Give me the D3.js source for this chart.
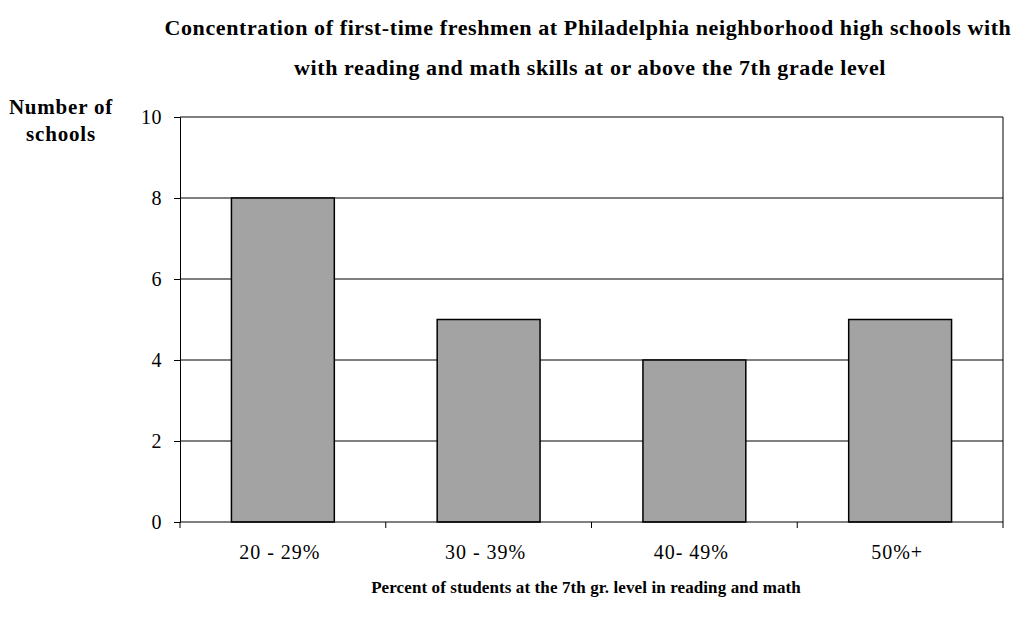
<!DOCTYPE html>
<html>
<head>
<meta charset="utf-8">
<script src="https://cdn.jsdelivr.net/npm/d3@7"></script>
<style>
  body { margin: 0; background: #fff; }
  svg { display: block; font-family: "Liberation Serif", "Times New Roman", serif; }
</style>
</head>
<body>
<div id="chart"></div>
<script>
const categories = ['20 - 29%', '30 - 39%', '40- 49%', '50%+'];
const schools = [8, 5, 4, 5];
const yTicks = [0, 2, 4, 6, 8, 10];

const W = 1029, H = 626;
const M = { top: 117, right: 26, bottom: 104, left: 180 };
const FONT = '"Liberation Serif", "Times New Roman", serif';

const svg = d3.select('#chart').append('svg')
  .attr('width', W).attr('height', H);

const x = d3.scaleBand()
  .domain(categories)
  .range([M.left, W - M.right])
  .paddingInner(0.5)
  .paddingOuter(0.25);

const y = d3.scaleLinear()
  .domain([0, 10])
  .range([H - M.bottom, M.top]);

// gridlines
svg.append('g')
  .selectAll('line')
  .data(yTicks.filter(d => d > 0))
  .join('line')
  .attr('x1', M.left).attr('x2', W - M.right)
  .attr('y1', d => y(d)).attr('y2', d => y(d))
  .attr('stroke', '#000').attr('stroke-width', 1);

// right border
svg.append('line')
  .attr('x1', W - M.right).attr('x2', W - M.right)
  .attr('y1', M.top).attr('y2', H - M.bottom)
  .attr('stroke', '#000');

// bars
svg.append('g')
  .selectAll('rect')
  .data(schools)
  .join('rect')
  .attr('x', (d, i) => x(categories[i]))
  .attr('y', d => y(d))
  .attr('width', x.bandwidth())
  .attr('height', d => y(0) - y(d))
  .attr('fill', '#a3a3a3')
  .attr('stroke', '#000')
  .attr('stroke-width', 1.5);

// y axis
const yAxis = svg.append('g')
  .attr('transform', `translate(${M.left},0)`)
  .call(d3.axisLeft(y).tickValues(yTicks).tickSize(6).tickPadding(12));
yAxis.select('.domain').attr('stroke', '#000');
yAxis.selectAll('text')
  .style('font-family', FONT).style('font-size', '20px').style('letter-spacing', '0.5px').attr('fill', '#000');

// x axis: ticks at category boundaries
const bounds = d3.range(categories.length + 1).map(i => M.left + i * (W - M.right - M.left) / categories.length);
svg.append('line')
  .attr('x1', M.left).attr('x2', W - M.right)
  .attr('y1', y(0)).attr('y2', y(0))
  .attr('stroke', '#000');
svg.append('g')
  .selectAll('line')
  .data(bounds)
  .join('line')
  .attr('x1', d => d).attr('x2', d => d)
  .attr('y1', y(0)).attr('y2', y(0) + 6)
  .attr('stroke', '#000');
svg.append('g')
  .selectAll('text')
  .data(categories)
  .join('text')
  .attr('x', d => x(d) + x.bandwidth() / 2 - 3)
  .attr('y', y(0) + 37)
  .attr('text-anchor', 'middle')
  .style('font-family', FONT).style('font-size', '20px').style('letter-spacing', '1px')
  .text(d => d);

// titles
const title = [
  'Concentration of first-time freshmen at Philadelphia neighborhood high schools with',
  'with reading and math skills at or above the 7th grade level'
];
svg.append('g')
  .selectAll('text')
  .data(title)
  .join('text')
  .attr('x', (d, i) => i ? 590 : 588)
  .attr('y', (d, i) => 35 + i * 40)
  .attr('text-anchor', 'middle')
  .style('font-family', FONT).style('font-size', '22px').style('font-weight', 'bold')
  .style('letter-spacing', '0.6px')
  .text(d => d);

svg.append('g')
  .selectAll('text')
  .data(['Number of', 'schools'])
  .join('text')
  .attr('x', 61)
  .attr('y', (d, i) => 114 + i * 27)
  .attr('text-anchor', 'middle')
  .style('font-family', FONT).style('font-size', '21px').style('font-weight', 'bold')
  .style('letter-spacing', '0.8px')
  .text(d => d);

svg.append('text')
  .attr('x', 586).attr('y', 593)
  .attr('text-anchor', 'middle')
  .style('font-family', FONT).style('font-size', '17px').style('font-weight', 'bold')
  .style('letter-spacing', '0.1px')
  .text('Percent of students at the 7th gr. level in reading and math');
</script>
</body>
</html>
